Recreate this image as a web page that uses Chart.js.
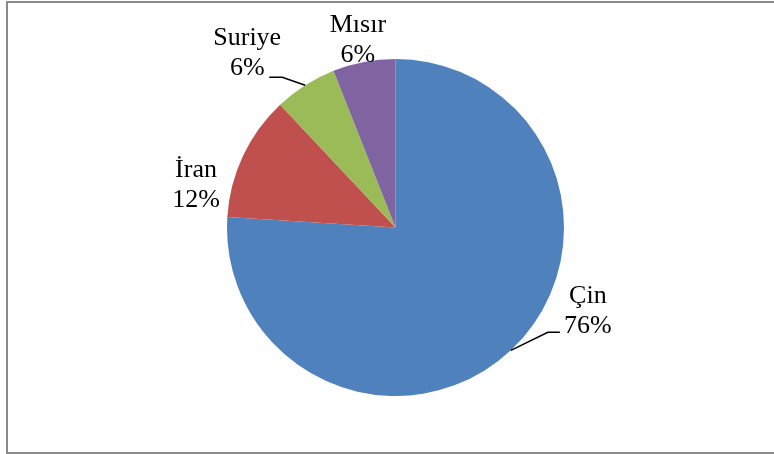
<!DOCTYPE html>
<html lang="tr">
<head>
<meta charset="utf-8">
<script src="https://cdn.jsdelivr.net/npm/chart.js@4"></script>
<style>
    html, body { margin: 0; padding: 0; background: #fff; overflow: hidden; }
    #wrap {
        position: relative;
        width: 774px;
        height: 454px;
        overflow: hidden;
    }
    #frame {
        position: absolute;
        left: 6px;
        top: 1px;
        width: 800px;
        height: 449px;
        border: 2px solid #8a8a8a;
    }
    #pie-chart { position: absolute; left: 0; top: 0; }
</style>
</head>
<body>
<div id="wrap">
    <div id="frame"></div>
    <canvas id="pie-chart" width="774" height="454"></canvas>
</div>
<script>
// Chart data
const countries = ['Çin', 'İran', 'Suriye', 'Mısır'];
const shares = [76, 12, 6, 6];
const sliceColors = ['#4F81BD', '#C0504D', '#9BBB59', '#8064A2'];

// Label placement relative to the outer edge at each slice's middle angle
const labelOffsets = [[77, -47], [-47, 21], [-58, -40], [-6, -30]];
// Leader lines (relative to the same edge point), null when no line is drawn
const leaderLines = [
    [[37, -18], [49, -18]],
    null,
    [[-23, -8], [-36, -8]],
    null
];

/**
 * Draws the two-line data labels and their leader lines
 */
const pieLabels = {
    id: 'pieLabels',
    afterDraw(chart) {
        const ctx = chart.ctx;
        const arcs = chart.getDatasetMeta(0).data;
        const total = shares.reduce((a, b) => a + b, 0);

        ctx.save();
        ctx.font = '26px "Liberation Serif", "Times New Roman", serif';
        ctx.fillStyle = '#000';
        ctx.textAlign = 'center';
        ctx.textBaseline = 'alphabetic';
        ctx.strokeStyle = '#000';
        ctx.lineWidth = 1.5;

        arcs.forEach((arc, i) => {
            const p = arc.getProps(['x', 'y', 'startAngle', 'endAngle', 'outerRadius'], true);
            const mid = (p.startAngle + p.endAngle) / 2;
            const ex = p.x + Math.cos(mid) * p.outerRadius;
            const ey = p.y + Math.sin(mid) * p.outerRadius;

            if (leaderLines[i]) {
                ctx.beginPath();
                ctx.moveTo(ex, ey);
                leaderLines[i].forEach(pt => ctx.lineTo(ex + pt[0], ey + pt[1]));
                ctx.stroke();
            }

            const tx = ex + labelOffsets[i][0];
            const ty = ey + labelOffsets[i][1];
            const pct = Math.round(shares[i] / total * 100) + '%';
            ctx.fillText(countries[i], tx, ty);
            ctx.fillText(pct, tx, ty + 30);
        });
        ctx.restore();
    }
};

function createPieChart() {
    const ctx = document.getElementById('pie-chart').getContext('2d');

    new Chart(ctx, {
        type: 'pie',
        data: {
            labels: countries,
            datasets: [{
                data: shares,
                backgroundColor: sliceColors,
                borderWidth: 0
            }]
        },
        options: {
            responsive: false,
            animation: false,
            events: [],
            plugins: {
                legend: { display: false },
                tooltip: { enabled: false }
            },
            layout: {
                padding: { left: 227, right: 210, top: 59, bottom: 58 }
            }
        },
        plugins: [pieLabels]
    });
}

createPieChart();
</script>
</body>
</html>
